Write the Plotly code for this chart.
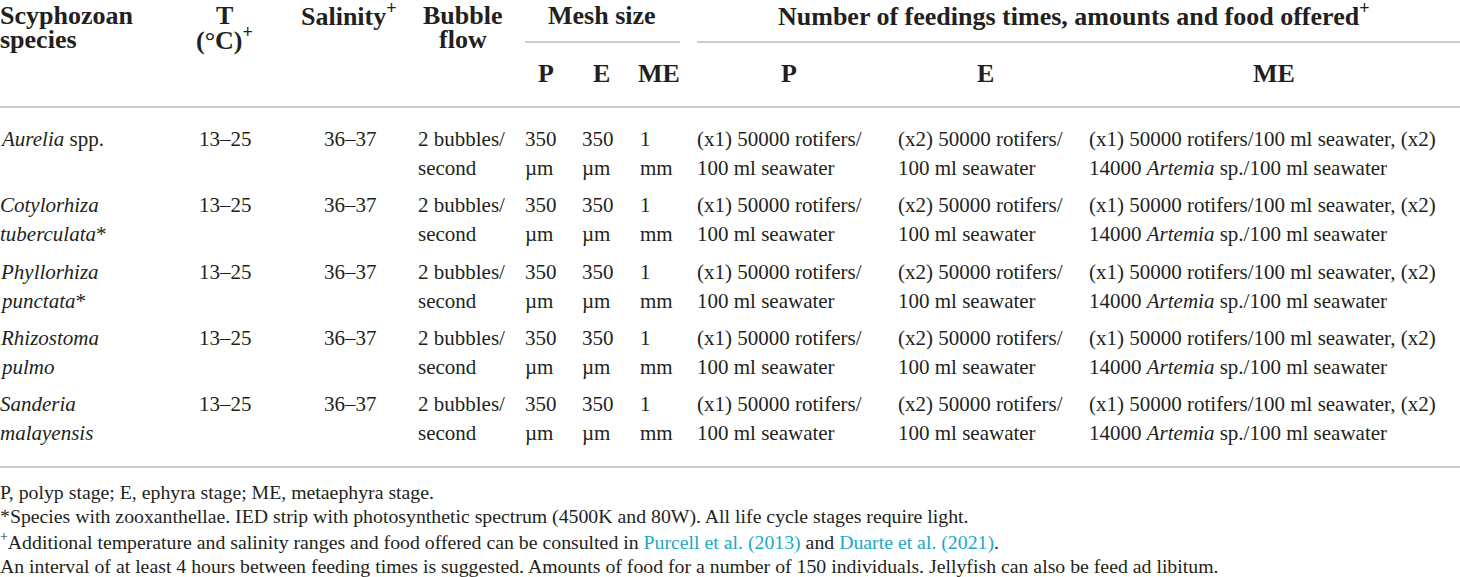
import plotly.graph_objects as go

# --- table content ---
species = [
    ["<i>Aurelia</i> spp."],
    ["<i>Cotylorhiza</i>", "<i>tuberculata</i>*"],
    ["<i>Phyllorhiza</i>", "<i>punctata</i>*"],
    ["<i>Rhizostoma</i>", "<i>pulmo</i>"],
    ["<i>Sanderia</i>", "<i>malayensis</i>"],
]
temperature = ["13–25", "13–25", "13–25", "13–25", "13–25"]
salinity = ["36–37", "36–37", "36–37", "36–37", "36–37"]
bubble_flow = [["2 bubbles/", "second"]] * 5
mesh_p = [["350", "µm"]] * 5
mesh_e = [["350", "µm"]] * 5
mesh_me = [["1", "mm"]] * 5
feed_p = [["(x1) 50000 rotifers/", "100 ml seawater"]] * 5
feed_e = [["(x2) 50000 rotifers/", "100 ml seawater"]] * 5
feed_me = [["(x1) 50000 rotifers/100 ml seawater, (x2)",
            "14000 <i>Artemia</i> sp./100 ml seawater"]] * 5

footnotes = [
    "P, polyp stage; E, ephyra stage; ME, metaephyra stage.",
    "*Species with zooxanthellae. IED strip with photosynthetic spectrum (4500K and 80W). All life cycle stages require light.",
    "<sup>+</sup>Additional temperature and salinity ranges and food offered can be consulted in "
    "<span style='color:#1aa9c9'>Purcell et al. (2013)</span> and "
    "<span style='color:#1aa9c9'>Duarte et al. (2021)</span>.",
    "An interval of at least 4 hours between feeding times is suggested. Amounts of food for a number of 150 individuals. Jellyfish can also be feed ad libitum.",
]

FONT = "Liberation Serif"
TXT = "#231f20"
LINE = "#cccccc"

fig = go.Figure()
ann = []


def add(x, y, text, size=21, anchor="left", bold=False, color=TXT):
    if bold:
        text = f"<b>{text}</b>"
    ann.append(dict(x=x, y=y, xref="x", yref="y", text=text, showarrow=False,
                    xanchor=anchor, yanchor="middle", borderpad=0, borderwidth=0,
                    font=dict(family=FONT, size=size, color=color)))


# header (lines with a superscript sit a bit higher so baselines match)
H = 26
add(0, 15, "Scyphozoan", H, bold=True)
add(0, 39, "species", H, bold=True)
add(224, 15, "T", H, "center", bold=True)
add(224, 38, "(°C)<sup>+</sup>", H, "center", bold=True)
add(349, 14, "Salinity<sup>+</sup>", H, "center", bold=True)
add(463, 15, "Bubble", H, "center", bold=True)
add(463, 39, "flow", H, "center", bold=True)
add(602, 15, "Mesh size", H, "center", bold=True)
add(1074, 14, "Number of feedings times, amounts and food offered<sup>+</sup>", H, "center", bold=True)
for xc, lab in [(546, "P"), (601, "E"), (659, "ME"), (789, "P"), (985, "E"), (1274, "ME")]:
    add(xc, 73, lab, H, "center", bold=True)

# body rows
row_y = [139, 205, 272, 338, 404]
LH = 29
for i, y in enumerate(row_y):
    for k, t in enumerate(species[i]):
        add(0, y + k * LH, t)
    add(225, y, temperature[i], anchor="center")
    add(350, y, salinity[i], anchor="center")
    for col_x, col in [(418, bubble_flow), (525, mesh_p), (582, mesh_e), (640, mesh_me),
                       (697, feed_p), (898, feed_e), (1089, feed_me)]:
        for k, t in enumerate(col[i]):
            add(col_x, y + k * LH, t)

# footnotes
for k, t in enumerate(footnotes):
    add(0, 492 + k * 24.5, t, 19.8)

# rules
shapes = [
    dict(type="line", x0=525, x1=680, y0=42, y1=42),
    dict(type="line", x0=697, x1=1460, y0=42, y1=42),
    dict(type="line", x0=0, x1=1460, y0=107, y1=107),
    dict(type="line", x0=0, x1=1460, y0=467, y1=467),
]
for s in shapes:
    s.update(xref="x", yref="y", line=dict(color=LINE, width=2))

fig.update_layout(
    width=1460, height=577,
    margin=dict(l=0, r=0, t=0, b=0),
    paper_bgcolor="white", plot_bgcolor="white",
    xaxis=dict(range=[0, 1460], visible=False, fixedrange=True),
    yaxis=dict(range=[577, 0], visible=False, fixedrange=True),
    annotations=ann, shapes=shapes, showlegend=False,
)

fig.write_html(
    "out.html",
    config={"displayModeBar": False},
    post_script="document.body.style.margin='0';document.body.style.overflow='hidden';"
                "Plotly.Plots.resize(document.getElementById('{plot_id}'));",
)
